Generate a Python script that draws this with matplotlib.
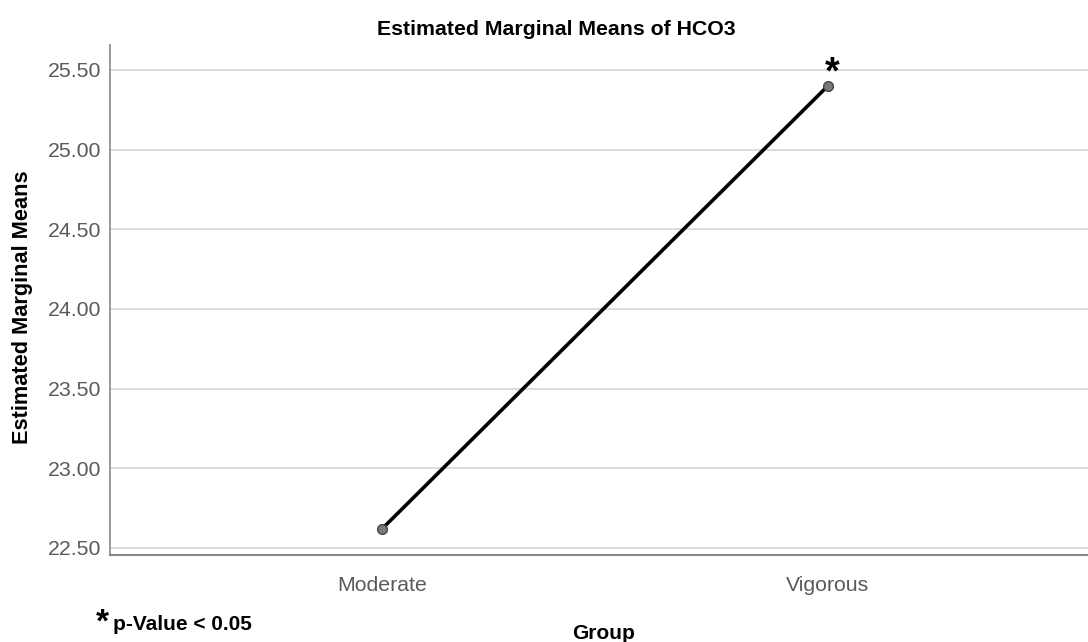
import matplotlib.pyplot as plt

groups = ["Moderate", "Vigorous"]
means = [22.62, 25.40]
yticks = [22.50, 23.00, 23.50, 24.00, 24.50, 25.00, 25.50]

plt.rcParams["font.family"] = ["Liberation Sans", "DejaVu Sans"]

fig = plt.figure(figsize=(10.88, 6.42), dpi=100)
ax = fig.add_axes([0.1011, 0.1355, 0.8989, 0.7945])

x = list(range(len(groups)))
ax.plot(x, means, color="black", linewidth=2.6, zorder=3)
ax.plot(x, means, linestyle="none", marker="o", markersize=7,
        markerfacecolor="#7a7a7a", markeredgecolor="#454545",
        markeredgewidth=1.0, zorder=4)

# significance marker above the Vigorous point
ax.annotate("*", xy=(x[1], means[1]), xytext=(3, 1.8), textcoords="offset points",
            ha="center", va="baseline", fontsize=27, fontweight="bold")

ax.set_xlim(-0.61, 1.583)
ax.set_ylim(22.456, 25.656)
ax.set_xticks(x)
ax.set_xticklabels(groups)
ax.set_yticks(yticks)
ax.set_yticklabels([f"{v:.2f}" for v in yticks])
ax.tick_params(axis="both", length=0, labelsize=15.3, labelcolor="#5a5a5a")
ax.tick_params(axis="x", pad=15)
ax.tick_params(axis="y", pad=6)

ax.grid(axis="y", color="#d2d2d2", linewidth=1.1)
ax.set_axisbelow(True)
for side in ["top", "right"]:
    ax.spines[side].set_visible(False)
ax.spines["left"].set_color("#8a8a8a")
ax.spines["bottom"].set_color("#8a8a8a")
ax.spines["left"].set_linewidth(1.2)
ax.spines["bottom"].set_linewidth(1.5)

fig.text(0.511, 0.9455, "Estimated Marginal Means of HCO3", ha="center",
         va="baseline", fontsize=15.3, fontweight="bold")
fig.text(0.021, 0.522, "Estimated Marginal Means", ha="center", va="center",
         rotation=90, fontsize=15.7, fontweight="bold")
fig.text(0.555, 0.0047, "Group", ha="center", va="baseline",
         fontsize=15, fontweight="bold")
fig.text(0.088, 0.017, "*", ha="left", va="baseline", fontsize=24, fontweight="bold")
fig.text(0.1039, 0.0187, "p-Value < 0.05", ha="left", va="baseline",
         fontsize=15, fontweight="bold")

fig.savefig("out.png", dpi=100)
